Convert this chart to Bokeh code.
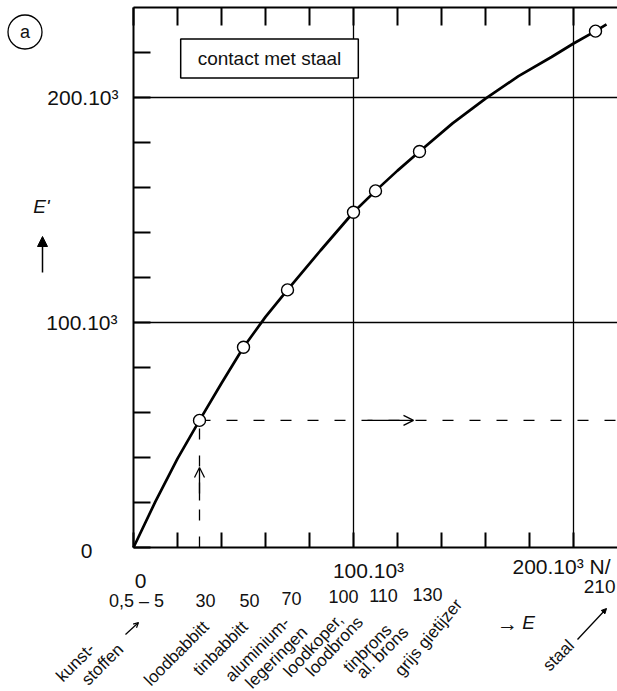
from bokeh.plotting import figure
from bokeh.models import Range1d, LinearAxis, FixedTicker, Label, Arrow, OpenHead, NormalHead
from bokeh.embed import file_html
from bokeh.resources import INLINE

# ---------------- data ----------------
# E (N/mm2) of the material in contact with steel, and the resulting E'
curve_E = [0, 10000, 20000, 30000, 40000, 50000, 60000, 70000, 85000, 100000,
           110000, 120000, 130000, 145000, 160000, 175000, 190000, 200000, 210000, 215000]
curve_Ep = [0, 20500, 39500, 56500, 73000, 89000, 102500, 114500, 132000, 149000,
            158500, 167500, 176000, 188500, 199500, 209500, 218000, 224000, 229500, 232500]
point_E = [30000, 50000, 70000, 100000, 110000, 130000, 210000]
point_Ep = [56500, 89000, 114500, 149000, 158500, 176000, 229500]

x_ticks = [0, 20000, 40000, 60000, 80000, 100000, 120000, 140000, 160000, 180000, 200000]
y_ticks = [0, 20000, 40000, 60000, 80000, 100000, 120000, 140000, 160000, 180000, 200000, 220000]
grid_values = [100000, 200000]
y_tick_text = ["0", "100.10³", "200.10³"]
x_tick_text = ["0", "100.10³", "200.10³ N/"]
steel_text = "210"
value_labels = ["0,5 – 5", "30", "50", "70", "100", "110", "130"]
materials = [["kunst-", "stoffen"], ["loodbabbitt"], ["tinbabbitt"],
             ["aluminium-", "legeringen"], ["loodkoper,", "loodbrons"],
             ["tinbrons", "al. brons"], ["grijs gietijzer"]]
steel_name = "staal"
title_text = "contact met staal"

# ---------------- layout ----------------
FONT = "Liberation Sans"
W, H = 617, 691
X0, Y0 = 133, 547                  # pixel of the origin
SX, SY = 2.2 / 1000, 2.25 / 1000   # pixels per N/mm2
TOP_PX = 7                         # pixel row of the upper frame line


def dx(px):
    return (px - X0) / SX


def dy(py):
    return (Y0 - py) / SY


x_end = dx(W)
y_top = dy(TOP_PX)

p = figure(width=W, height=H, x_range=Range1d(dx(0), x_end), y_range=Range1d(dy(H), dy(0)),
           output_backend="svg", toolbar_location=None,
           min_border_left=0, min_border_right=0, min_border_top=0, min_border_bottom=0)
p.outline_line_color = None
p.background_fill_color = "white"
p.border_fill_color = "white"
p.xgrid.visible = False
p.ygrid.visible = False


def style_axis(ax, tick_in, ticks, loc, bounds):
    ax.ticker = FixedTicker(ticks=ticks)
    ax.fixed_location = loc
    ax.bounds = bounds
    ax.major_label_overrides = {t: "" for t in ticks}
    ax.major_label_text_font_size = "0px"
    ax.major_label_standoff = 0
    ax.major_tick_in = tick_in
    ax.major_tick_out = 0
    ax.minor_tick_in = 0
    ax.minor_tick_out = 0
    ax.axis_line_width = 2
    ax.major_tick_line_width = 2
    ax.axis_line_color = "black"
    ax.major_tick_line_color = "black"


style_axis(p.yaxis[0], 17, y_ticks, 0, (0, y_top))
style_axis(p.xaxis[0], 15, x_ticks, 0, (0, x_end))
top = LinearAxis()
style_axis(top, 18, x_ticks, y_top, (0, x_end))
p.add_layout(top, "above")

# grid lines at 100.10^3 and 200.10^3
p.segment(x0=grid_values, y0=[0, 0], x1=grid_values, y1=[y_top, y_top],
          line_color="black", line_width=1.3)
p.segment(x0=[0, 0], y0=grid_values, x1=[x_end, x_end], y1=grid_values,
          line_color="black", line_width=1.3)

# dashed read-off lines
p.segment(x0=[point_E[0]], y0=[0], x1=[point_E[0]], y1=[point_Ep[0]],
          line_color="black", line_width=1.3, line_dash="11 16")
p.segment(x0=[point_E[0]], y0=[point_Ep[0]], x1=[x_end], y1=[point_Ep[0]],
          line_color="black", line_width=1.3, line_dash="11 16")
p.add_layout(Arrow(x_start=point_E[0], y_start=dy(500), x_end=point_E[0], y_end=dy(467),
                   line_width=1.3, end=OpenHead(size=10, line_width=1.3)))
p.add_layout(Arrow(x_start=dx(367), y_start=point_Ep[0], x_end=dx(413), y_end=point_Ep[0],
                   line_width=1.3, end=OpenHead(size=10, line_width=1.3)))

# curve and points
p.line(curve_E, curve_Ep, line_color="black", line_width=2.7)
p.scatter(point_E, point_Ep, marker="circle", size=12, fill_color="white",
          line_color="black", line_width=1.4)


def lab(text, x, y, size=21, align="center", angle=0, style="normal", **kw):
    p.add_layout(Label(x=x, y=y, text=text, text_font=FONT,
                       text_font_size=f"{size}px", text_align=align, text_baseline="middle",
                       angle=angle, angle_units="deg", text_font_style=style,
                       text_color="#111111", **kw))


# boxed title and panel letter
lab(title_text, dx(269), dy(58), size=19, border_line_color="black", border_line_width=1.5,
    background_fill_color="white", padding=dict(x=17, y=9))
lab("a", dx(24.5), dy(31.5), size=18, border_line_color="black", border_line_width=1.3,
    background_fill_color="white", padding=dict(x=12, y=7), border_radius=17)

# y axis title with arrow and tick texts
lab("E'", dx(41), dy(206), size=19, style="italic")
p.add_layout(Arrow(x_start=dx(42), y_start=dy(272), x_end=dx(42), y_end=dy(236),
                   line_width=1.5, end=NormalHead(size=10, fill_color="black", line_width=1)))
lab(y_tick_text[0], dx(86), dy(550))
lab(y_tick_text[1], dx(117), grid_values[0], align="right")
lab(y_tick_text[2], dx(118), grid_values[1], align="right")

# x axis tick texts
lab(x_tick_text[0], dx(140), dy(580))
lab(x_tick_text[1], dx(368), dy(570))
lab(x_tick_text[2], dx(512), dy(566), align="left")
lab(steel_text, dx(615), dy(586), size=19, align="right")

# second row of E values
value_pos = [(136, 600), (205, 600), (249, 600), (291, 598), (343, 596), (383, 595), (427, 594)]
for t, (px, py) in zip(value_labels, value_pos):
    lab(t, dx(px), dy(py), size=18)

# material names (rotated)
material_pos = [[(75, 662), (102, 664)], [(176, 653)], [(220, 648)],
                [(257, 649), (276, 657)], [(313, 645), (334, 646)],
                [(367, 648), (382, 652)], [(428, 637)]]
material_angle = [45, 45, 45, 45, 47, 45, 50]
for lines, poss, ang in zip(materials, material_pos, material_angle):
    for t, (px, py) in zip(lines, poss):
        lab(t, dx(px), dy(py), size=17, angle=ang)

p.add_layout(Arrow(x_start=dx(125), y_start=dy(634), x_end=dx(138), y_end=dy(622),
                   line_width=1.2, end=OpenHead(size=5, line_width=1.2)))

# E arrow label
lab("→", dx(507), dy(623), size=21)
lab("E", dx(528), dy(622), size=19, style="italic")

# steel
lab(steel_name, dx(558), dy(655), size=17, angle=45)
p.add_layout(Arrow(x_start=dx(577), y_start=dy(639), x_end=dx(606), y_end=dy(608),
                   line_width=1.3, end=NormalHead(size=5, fill_color="black", line_width=1)))

open("out.html", "w").write(file_html(p, INLINE))
